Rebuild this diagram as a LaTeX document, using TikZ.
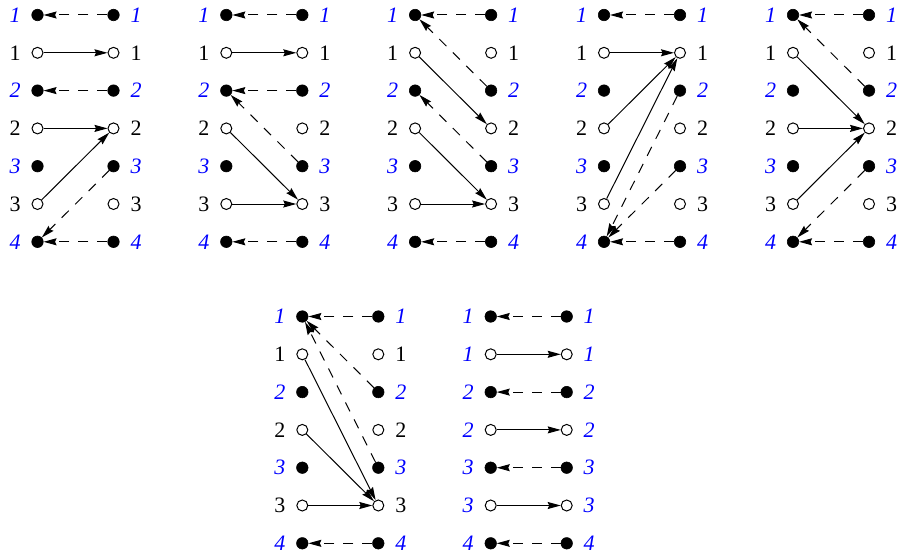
\documentclass[tikz,border=0pt]{standalone}
\usepackage{fontspec}
\setmainfont{Liberation Serif}
\usetikzlibrary{arrows.meta}
\tikzset{
  fdot/.style={circle,fill=black,draw=black,line width=0.6pt,inner sep=0pt,minimum size=11.5pt},
  odot/.style={circle,fill=white,draw=black,line width=1pt,inner sep=0pt,minimum size=11pt},
  blab/.style={text=blue,inner sep=0pt,font=\fontsize{22}{22}\selectfont\itshape},
  klab/.style={text=black,inner sep=0pt,font=\fontsize{22}{22}\selectfont},
  tip/.style={-{Stealth[length=13pt,width=7pt,inset=1.5pt]}},
  sol/.style={line width=1pt,tip},
  dsh/.style={line width=1pt,dash pattern=on 10pt off 9pt,tip},
}
\newcommand\mkpanel[4]{%
  \foreach \r in {1,3,5,7}{%
    \pgfmathtruncatemacro\nn{(\r+1)/2}%
    \node[fdot] (#1L\r) at ({#2},{#3+37.8*(\r-1)}) {};
    \node[fdot] (#1R\r) at ({#2+76},{#3+37.8*(\r-1)}) {};
    \node[blab] (#1a\r) at ({#2-22.5},{#3+37.8*(\r-1)}) {\nn};
    \node[blab] (#1b\r) at ({#2+98.5},{#3+37.8*(\r-1)}) {\nn};
  }%
  \foreach \r in {2,4,6}{%
    \pgfmathtruncatemacro\nn{\r/2}%
    \node[odot] (#1L\r) at ({#2},{#3+37.8*(\r-1)}) {};
    \node[odot] (#1R\r) at ({#2+76},{#3+37.8*(\r-1)}) {};
    \ifnum#4=1
      \node[blab] (#1a\r) at ({#2-22.5},{#3+37.8*(\r-1)}) {\nn};
      \node[blab] (#1b\r) at ({#2+98.5},{#3+37.8*(\r-1)}) {\nn};
    \else
      \node[klab] (#1a\r) at ({#2-22.5},{#3+37.8*(\r-1)}) {\nn};
      \node[klab] (#1b\r) at ({#2+98.5},{#3+37.8*(\r-1)}) {\nn};
    \fi
  }%
}
\begin{document}
\begin{tikzpicture}[x=1pt,y=-1pt]
\useasboundingbox (0,0) rectangle (901,559);
\mkpanel{A}{37.5}{15}{0}
\mkpanel{B}{226.3}{15}{0}
\mkpanel{C}{415.1}{15}{0}
\mkpanel{D}{604}{15}{0}
\mkpanel{E}{793}{15}{0}
\mkpanel{F}{302.3}{316.5}{0}
\mkpanel{G}{490.7}{316.5}{1}
% panel A
\draw[dsh] (AR1) -- (AL1);
\draw[sol] (AL2) -- (AR2);
\draw[dsh] (AR3) -- (AL3);
\draw[sol] (AL4) -- (AR4);
\draw[sol] (AL6) -- (AR4);
\draw[dsh] (AR5) -- (AL7);
\draw[dsh] (AR7) -- (AL7);
% panel B
\draw[dsh] (BR1) -- (BL1);
\draw[sol] (BL2) -- (BR2);
\draw[dsh] (BR3) -- (BL3);
\draw[dsh] (BR5) -- (BL3);
\draw[sol] (BL4) -- (BR6);
\draw[sol] (BL6) -- (BR6);
\draw[dsh] (BR7) -- (BL7);
% panel C
\draw[dsh] (CR1) -- (CL1);
\draw[dsh] (CR3) -- (CL1);
\draw[sol] (CL2) -- (CR4);
\draw[dsh] (CR5) -- (CL3);
\draw[sol] (CL4) -- (CR6);
\draw[sol] (CL6) -- (CR6);
\draw[dsh] (CR7) -- (CL7);
% panel D
\draw[dsh] (DR1) -- (DL1);
\draw[sol] (DL2) -- (DR2);
\draw[sol] (DL4) -- (DR2);
\draw[sol] (DL6) -- (DR2);
\draw[dsh] (DR3) -- (DL7);
\draw[dsh] (DR5) -- (DL7);
\draw[dsh] (DR7) -- (DL7);
% panel E
\draw[dsh] (ER1) -- (EL1);
\draw[dsh] (ER3) -- (EL1);
\draw[sol] (EL2) -- (ER4);
\draw[sol] (EL4) -- (ER4);
\draw[sol] (EL6) -- (ER4);
\draw[dsh] (ER5) -- (EL7);
\draw[dsh] (ER7) -- (EL7);
% panel F
\draw[dsh] (FR1) -- (FL1);
\draw[dsh] (FR3) -- (FL1);
\draw[dsh] (FR5) -- (FL1);
\draw[sol] (FL2) -- (FR6);
\draw[sol] (FL4) -- (FR6);
\draw[sol] (FL6) -- (FR6);
\draw[dsh] (FR7) -- (FL7);
% panel G
\draw[dsh] (GR1) -- (GL1);
\draw[sol] (GL2) -- (GR2);
\draw[dsh] (GR3) -- (GL3);
\draw[sol] (GL4) -- (GR4);
\draw[dsh] (GR5) -- (GL5);
\draw[sol] (GL6) -- (GR6);
\draw[dsh] (GR7) -- (GL7);
\end{tikzpicture}
\end{document}
